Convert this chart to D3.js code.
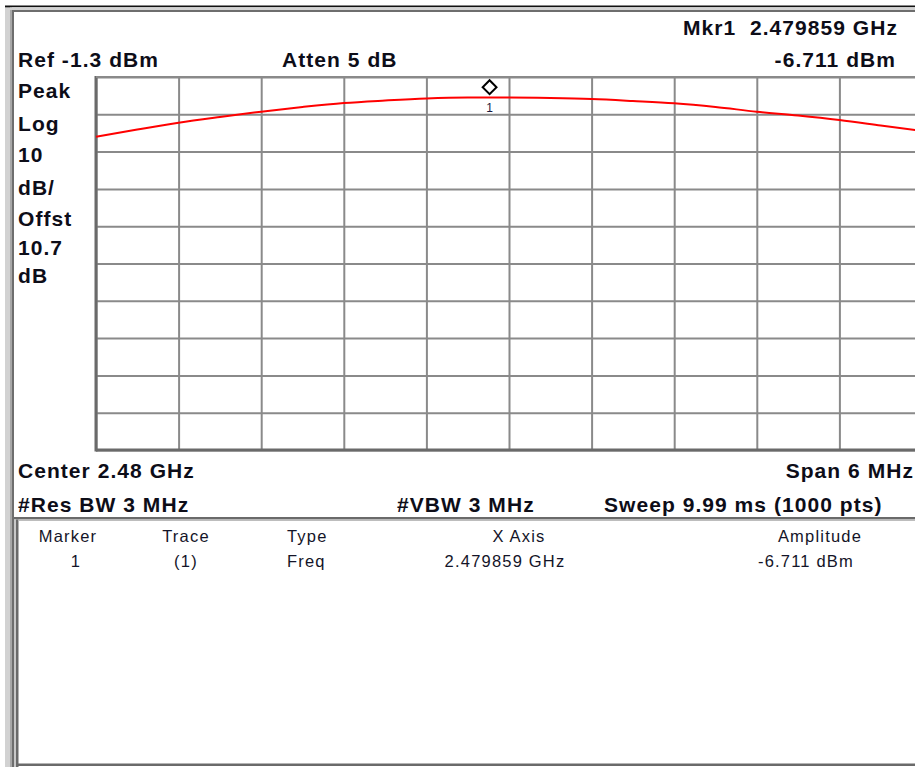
<!DOCTYPE html>
<html>
<head>
<meta charset="utf-8">
<script src="https://cdn.jsdelivr.net/npm/d3@7"></script>
<style>
  html, body { margin: 0; padding: 0; background: #ffffff; }
  svg { display: block; }
  text { white-space: pre; }
  .big { font-family: "Liberation Sans", Arial, sans-serif; font-weight: bold; font-size: 21px; fill: #0d0d18; letter-spacing: 1.05px; }
  .tbl { font-family: "Liberation Sans", Arial, sans-serif; font-size: 16.5px; fill: #141428; letter-spacing: 1.2px; }
</style>
</head>
<body>
<svg id="chart" width="915" height="767"></svg>
<script>
// Sweep: frequency offsets from centre (MHz) and measured amplitude (dBm)
const centerGHz = 2.48;
const spanMHz = 6;
const offsetsMHz = [-3.0, -2.7, -2.4, -2.1, -1.8, -1.5, -1.2, -0.9, -0.6, -0.3, 0.0,
                     0.3, 0.6, 0.9, 1.2, 1.5, 1.8, 2.1, 2.4, 2.7, 3.0];
const amplitudeDbm = [-17.30, -15.38, -13.55, -12.02, -10.60, -9.34, -8.27, -7.60, -7.06, -6.82, -6.80,
                      -6.93, -7.20, -7.73, -8.35, -9.34, -10.60, -11.62, -12.83, -14.30, -15.78];

// Marker 1
const markerFreqGHz = 2.479859;
const markerAmpDbm = -6.711;

// Display settings
const refLevelDbm = -1.3;
const dbPerDiv = 10;
const divisions = 10;

// Annotation texts
const leftLabels = ["Peak", "Log", "10", "dB/", "Offst", "10.7", "dB"];
const tableHeaders = ["Marker", "Trace", "Type", "X Axis", "Amplitude"];
const tableRow = ["1", "(1)", "Freq", "2.479859 GHz", "-6.711 dBm"];

const svg = d3.select("#chart");
const W = 915, H = 767;

// ---- window frame ----
svg.append("rect").attr("x", 5).attr("y", 7).attr("width", 5).attr("height", H - 7).attr("fill", "#d2d2d2");
svg.append("rect").attr("x", 10).attr("y", 7).attr("width", 2).attr("height", H - 7).attr("fill", "#a8a8a8");
svg.append("rect").attr("x", 12).attr("y", 10).attr("width", 2).attr("height", H - 10).attr("fill", "#6e6e6e");
svg.append("rect").attr("x", 5).attr("y", 5.5).attr("width", W - 5).attr("height", 1.8).attr("fill", "#111111");
svg.append("rect").attr("x", 10).attr("y", 7.3).attr("width", W - 10).attr("height", 2.7).attr("fill", "#d2d2d2");
svg.append("rect").attr("x", 12).attr("y", 10).attr("width", W - 12).attr("height", 2).attr("fill", "#6e6e6e");

// ---- scales ----
const plot = { left: 96, right: 922, top: 77, bottom: 450 };
const x = d3.scaleLinear()
  .domain([centerGHz - spanMHz / 2000, centerGHz + spanMHz / 2000])
  .range([plot.left, plot.right]);
const y = d3.scaleLinear()
  .domain([refLevelDbm - dbPerDiv * divisions, refLevelDbm])
  .range([plot.bottom, plot.top]);

const xTicks = d3.range(divisions + 1).map(i => x.domain()[0] + i * (x.domain()[1] - x.domain()[0]) / divisions);
const yTicks = d3.range(divisions + 1).map(i => y.domain()[0] + i * dbPerDiv);

// ---- graticule ----
const gx = svg.append("g")
  .attr("transform", `translate(0,${plot.bottom})`)
  .call(d3.axisBottom(x).tickValues(xTicks).tickSize(-(plot.bottom - plot.top)).tickFormat(""));
gx.select(".domain").remove();
gx.selectAll(".tick line").attr("stroke", "#8a8a8a").attr("stroke-width", 2);

const gy = svg.append("g")
  .attr("transform", `translate(${plot.left},0)`)
  .call(d3.axisLeft(y).tickValues(yTicks).tickSize(-(plot.right - plot.left)).tickFormat(""));
gy.select(".domain").remove();
gy.selectAll(".tick line").attr("stroke", "#8a8a8a").attr("stroke-width", 2);

// frame of the graticule: heavier left and bottom edges
svg.append("line").attr("x1", plot.left).attr("x2", plot.left).attr("y1", plot.top - 1).attr("y2", plot.bottom + 1.5)
  .attr("stroke", "#6a6a6a").attr("stroke-width", 3);
svg.append("line").attr("x1", plot.left).attr("x2", W).attr("y1", plot.bottom).attr("y2", plot.bottom)
  .attr("stroke", "#6a6a6a").attr("stroke-width", 3);
svg.append("line").attr("x1", plot.left).attr("x2", W).attr("y1", plot.top).attr("y2", plot.top)
  .attr("stroke", "#8a8a8a").attr("stroke-width", 2);

// ---- trace ----
const pts = offsetsMHz.map((o, i) => [centerGHz + o / 1000, amplitudeDbm[i]]);
svg.append("path")
  .datum(pts)
  .attr("fill", "none")
  .attr("stroke", "#ff0000")
  .attr("stroke-width", 2)
  .attr("d", d3.line().x(d => x(d[0])).y(d => y(d[1])).curve(d3.curveMonotoneX));

// ---- marker ----
const mx = x(markerFreqGHz), my = y(markerAmpDbm);
svg.append("path")
  .attr("d", d3.symbol(d3.symbolSquare, 96)())
  .attr("transform", `translate(${mx},${my - 10}) rotate(45)`)
  .attr("fill", "#ffffff")
  .attr("stroke", "#000000")
  .attr("stroke-width", 2);
svg.append("text")
  .attr("x", mx).attr("y", my + 15)
  .attr("text-anchor", "middle")
  .style("font-family", "Liberation Sans, Arial, sans-serif")
  .style("font-size", "12px")
  .style("fill", "#1a1a40")
  .text("1");

// ---- header annotations ----
function big(txt, xPos, yPos, anchor) {
  svg.append("text").attr("class", "big")
    .attr("x", xPos).attr("y", yPos)
    .attr("text-anchor", anchor || "start")
    .text(txt);
}
big("Mkr1  2.479859 GHz", 898, 35, "end");
big("Ref -1.3 dBm", 18, 67);
big("Atten 5 dB", 282, 67);
big(`${markerAmpDbm.toFixed(3)} dBm`, 896, 67, "end");

const leftBaselines = [98, 131, 162, 195, 226, 255, 283];
leftLabels.forEach((t, i) => big(t, 18, leftBaselines[i]));

big(`Center ${centerGHz} GHz`, 18, 478);
big(`Span ${spanMHz} MHz`, 914, 478, "end");
big("#Res BW 3 MHz", 18, 512);
big("#VBW 3 MHz", 397, 512);
big("Sweep 9.99 ms (1000 pts)", 604, 512);

// ---- marker table ----
svg.append("rect").attr("x", 14).attr("y", 517).attr("width", W - 14).attr("height", 2.5).attr("fill", "#6a6a6a");
svg.append("rect").attr("x", 14).attr("y", 519.5).attr("width", 2).attr("height", H - 519.5).attr("fill", "#c8c8c8");
svg.append("rect").attr("x", 16).attr("y", 519.5).attr("width", 2.5).attr("height", H - 519.5).attr("fill", "#6a6a6a");
svg.append("rect").attr("x", 16).attr("y", 763.5).attr("width", W - 16).attr("height", 2.5).attr("fill", "#6a6a6a");
svg.append("rect").attr("x", 18.5).attr("y", 519.5).attr("width", W - 18.5).attr("height", 1.5).attr("fill", "#bdbdbd");

const headerX = [68, 186, 287, 519, 820];
const headerAnchor = ["middle", "middle", "start", "middle", "middle"];
const rowX = [76, 186, 287, 505, 806];
tableHeaders.forEach((t, i) => {
  svg.append("text").attr("class", "tbl").attr("x", headerX[i]).attr("y", 542)
    .attr("text-anchor", headerAnchor[i]).text(t);
});
tableRow.forEach((t, i) => {
  svg.append("text").attr("class", "tbl").attr("x", rowX[i]).attr("y", 567)
    .attr("text-anchor", headerAnchor[i]).text(t);
});
</script>
</body>
</html>
